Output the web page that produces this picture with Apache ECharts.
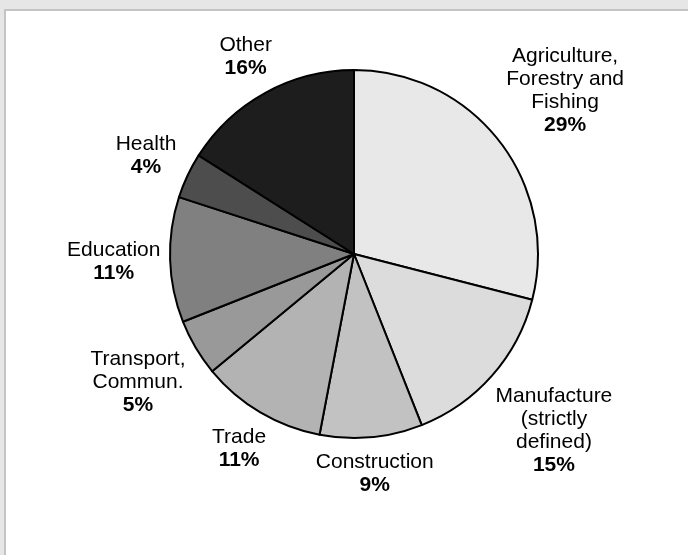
<!DOCTYPE html>
<html>
<head>
<meta charset="utf-8">
<title>Employment by sector</title>
<script src="https://cdn.jsdelivr.net/npm/echarts@6/dist/echarts.min.js"></script>
<style>
  html, body { margin: 0; padding: 0; background: #e6e6e6; }
  #panel {
    position: absolute; left: 4px; top: 9px; right: -10px; bottom: -10px;
    background: #ffffff;
    border-left: 2px solid #c4c4c4;
    border-top: 2px solid #c4c4c4;
  }
  #chart { position: absolute; left: 0; top: 0; width: 688px; height: 555px; }
</style>
</head>
<body>
<div id="panel"></div>
<div id="chart"></div>
<script>
// Sectors, clockwise from twelve o'clock
const sectors = [
  'Agriculture,\nForestry and\nFishing',
  'Manufacture\n(strictly\ndefined)',
  'Construction',
  'Trade',
  'Transport,\nCommun.',
  'Education',
  'Health',
  'Other'
];
// Share of each sector, percent
const shares = [29, 15, 9, 11, 5, 11, 4, 16];
// Grey fill for each sector
const fills = ['#e8e8e8', '#dcdcdc', '#c2c2c2', '#b3b3b3', '#999999', '#808080', '#4d4d4d', '#1d1d1d'];

const cx = 354, cy = 254, radius = 184, labelGap = 9;
const total = shares.reduce((a, b) => a + b, 0);

// mid angle of each slice, measured clockwise from the top
const midAngles = [];
let acc = 0;
shares.forEach(v => {
  midAngles.push(((acc + v / 2) / total) * 2 * Math.PI);
  acc += v;
});

const font = 'Liberation Sans, Arial, Helvetica, sans-serif';
const chart = echarts.init(document.getElementById('chart'), null, { renderer: 'canvas' });

chart.setOption({
  backgroundColor: 'transparent',
  animation: false,
  series: [{
    type: 'pie',
    center: [cx, cy],
    radius: radius,
    startAngle: 90,
    clockwise: true,
    avoidLabelOverlap: false,
    data: sectors.map((name, i) => ({
      name: name,
      value: shares[i],
      itemStyle: { color: fills[i] }
    })),
    itemStyle: { borderColor: '#000000', borderWidth: 2 },
    emphasis: { disabled: true },
    label: {
      show: true,
      position: 'outside',
      align: 'center',
      formatter: p => {
        const lines = p.name.split('\n').map(s => '{n|' + s + '}');
        lines.push('{p|' + p.value + '%}');
        return lines.join('\n');
      },
      rich: {
        n: { fontFamily: font, fontSize: 21, lineHeight: 23, color: '#000', align: 'center' },
        p: { fontFamily: font, fontSize: 21, lineHeight: 23, color: '#000', fontWeight: 'bold', align: 'center' }
      }
    },
    labelLine: { show: false },
    // place each label just outside the rim, along its slice's mid angle
    labelLayout: params => {
      const a = midAngles[params.dataIndex];
      const ux = Math.sin(a), uy = -Math.cos(a);
      const w = params.labelRect.width, h = params.labelRect.height;
      const support = Math.abs(ux) * w / 2 + Math.abs(uy) * h / 2;
      const d = radius + labelGap + support;
      return {
        x: cx + ux * d,
        y: cy + uy * d,
        align: 'center',
        verticalAlign: 'middle'
      };
    }
  }]
});
</script>
</body>
</html>
